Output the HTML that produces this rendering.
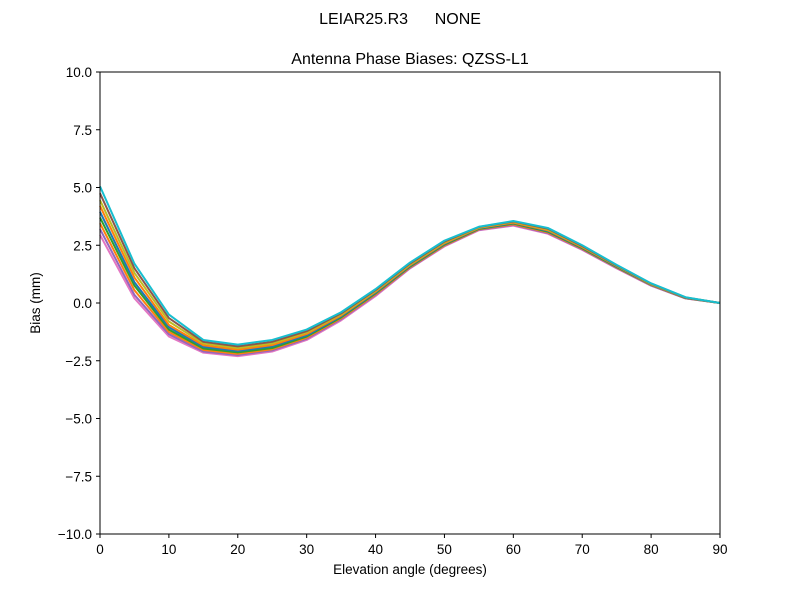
<!DOCTYPE html>
<html><head><meta charset="utf-8"><style>
body{margin:0;background:#fff}
svg text{font-family:"Liberation Sans","DejaVu Sans",sans-serif;fill:#000}
</style></head><body>
<svg id="chart" width="800" height="600" xmlns="http://www.w3.org/2000/svg">
<rect width="800" height="600" fill="#fff"/>
<text x="400" y="24" font-size="16" text-anchor="middle" xml:space="preserve">LEIAR25.R3      NONE</text>
<text x="410" y="64" font-size="16" text-anchor="middle">Antenna Phase Biases: QZSS-L1</text>
<g id="plot"></g>
<rect x="100" y="72" width="620" height="462" fill="none" stroke="#000" stroke-width="1"/>
<g id="ticks"></g>
<text x="410" y="574" font-size="13.5" text-anchor="middle">Elevation angle (degrees)</text>
<text transform="translate(40,303) rotate(-90)" font-size="13.5" text-anchor="middle">Bias (mm)</text>
</svg>
<script>
const elevations=[0,5,10,15,20,25,30,35,40,45,50,55,60,65,70,75,80,85,90];
const xTicks=[0,10,20,30,40,50,60,70,80,90];
const yTicks=[-10,-7.5,-5,-2.5,0,2.5,5,7.5,10];
const yTickLabels=["\u221210.0","\u22127.5","\u22125.0","\u22122.5","0.0","2.5","5.0","7.5","10.0"];
const s0=[2.95,0.2,-1.45,-2.15,-2.3,-2.1,-1.6,-0.75,0.3,1.5,2.45,3.15,3.35,3.0,2.3,1.5,0.75,0.2,0];
const s1=[3.2,0.35,-1.35,-2.1,-2.25,-2.05,-1.55,-0.7,0.35,1.52,2.48,3.17,3.38,3.03,2.32,1.52,0.76,0.2,0];
const s2=[3.45,0.55,-1.25,-2.03,-2.2,-2.0,-1.5,-0.66,0.38,1.55,2.5,3.19,3.41,3.06,2.35,1.54,0.78,0.21,0];
const s3=[3.7,0.75,-1.15,-1.97,-2.14,-1.95,-1.45,-0.62,0.42,1.58,2.53,3.21,3.44,3.09,2.37,1.56,0.79,0.22,0];
const s4=[3.95,0.9,-1.05,-1.9,-2.08,-1.88,-1.4,-0.58,0.45,1.61,2.56,3.23,3.46,3.12,2.4,1.58,0.8,0.22,0];
const s5=[4.2,1.1,-0.95,-1.83,-2.02,-1.82,-1.34,-0.54,0.49,1.64,2.59,3.25,3.48,3.15,2.42,1.6,0.81,0.23,0];
const s6=[4.45,1.3,-0.8,-1.75,-1.95,-1.75,-1.28,-0.5,0.52,1.67,2.62,3.27,3.51,3.18,2.45,1.61,0.82,0.24,0];
const s7=[4.75,1.5,-0.65,-1.68,-1.88,-1.68,-1.22,-0.45,0.56,1.71,2.66,3.29,3.53,3.22,2.47,1.63,0.84,0.24,0];
const s8=[5.05,1.7,-0.5,-1.6,-1.8,-1.6,-1.15,-0.4,0.6,1.75,2.7,3.3,3.55,3.25,2.5,1.65,0.85,0.25,0];
const series=[s0,s1,s2,s3,s4,s5,s6,s7,s8];
const colors=["#e377c2","#9467bd","#ff7f0e","#2ca02c","#1f77b4","#ff7f0e","#bcbd22","#8c564b","#17becf"];
const NS="http://www.w3.org/2000/svg";
const X=v=>100+(v-0)/(90-0)*620;
const Y=v=>534-(v+10)/20*462;
const plot=document.getElementById('plot');
series.forEach((s,i)=>{
  const p=document.createElementNS(NS,'polyline');
  
  
  p.setAttribute('points',s.map((v,j)=>X(elevations[j])+','+Y(v)).join(' '));
  p.setAttribute('fill','none');p.setAttribute('stroke',colors[i%colors.length]);
  p.setAttribute('stroke-width','2');p.setAttribute('stroke-linejoin','round');
  plot.appendChild(p);
});
const tg=document.getElementById('ticks');
xTicks.forEach(t=>{
  const l=document.createElementNS(NS,'line');
  
  
  l.setAttribute('x1',X(t));l.setAttribute('x2',X(t));l.setAttribute('y1',534);l.setAttribute('y2',538);l.setAttribute('stroke','#000');
  tg.appendChild(l);
  const tx=document.createElementNS(NS,'text');
  
  
  tx.setAttribute('x',X(t));tx.setAttribute('y',554);tx.setAttribute('font-size','13.5');tx.setAttribute('text-anchor','middle');
  tx.textContent=t;tg.appendChild(tx);
});
yTicks.forEach((t,i)=>{
  const l=document.createElementNS(NS,'line');
  
  
  l.setAttribute('x1',96);l.setAttribute('x2',100);l.setAttribute('y1',Y(t));l.setAttribute('y2',Y(t));l.setAttribute('stroke','#000');
  tg.appendChild(l);
  const tx=document.createElementNS(NS,'text');
  
  
  tx.setAttribute('x',92);tx.setAttribute('y',Y(t)+5);tx.setAttribute('font-size','13.5');tx.setAttribute('text-anchor','end');
  tx.textContent=yTickLabels[i];tg.appendChild(tx);
});
</script>
</body></html>
